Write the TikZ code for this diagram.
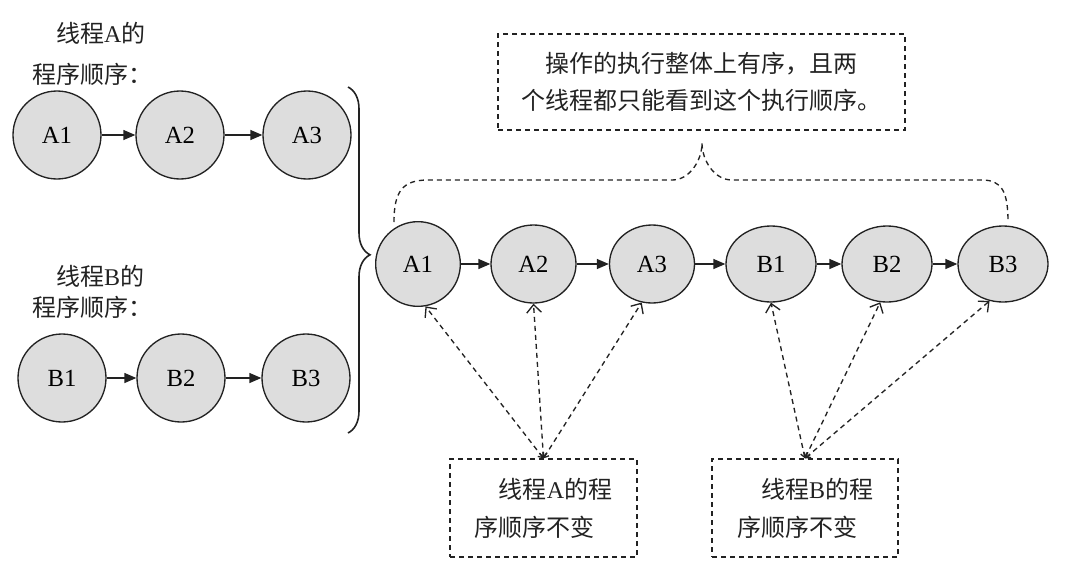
\documentclass[tikz,border=0pt]{standalone}
\usepackage{fontspec}
\setmainfont{Noto Sans CJK SC}
\newfontfamily\latin{Liberation Serif}
\usetikzlibrary{arrows.meta,shapes.geometric,decorations.pathreplacing}
\definecolor{opfill}{RGB}{221,221,221}
\definecolor{ink}{RGB}{34,34,34}

\begin{document}
\begin{tikzpicture}[x=0.75pt,y=-0.75pt]
        \tikzset{op/.style={draw=ink,fill=opfill,line width=1pt,inner sep=0pt,
                font=\latin\fontsize{18.5}{20}\selectfont},
            lop/.style={op,circle,minimum size=66pt},
            rfirst/.style={op,circle,minimum size=63.5pt},
            rop/.style={op,ellipse,minimum width=63.75pt,minimum height=58.5pt},
            rbop/.style={op,ellipse,minimum width=67.5pt,minimum height=57pt},
            flow/.style={draw=ink,line width=1pt,-{Triangle[length=9pt,width=7.5pt]}},
            note/.style={align=left,inner sep=0pt,text=ink},
            notebox/.style={note,draw=ink,line width=1pt,dash pattern=on 3.75pt off 3pt},
            link/.style={draw=ink,line width=1pt,dash pattern=on 3.75pt off 3pt,
                {Straight Barb[length=3pt,width=5pt]}-{Straight Barb[length=6pt,width=11pt]}}}
        \useasboundingbox (0,0) rectangle (1075,568);
        \node[note,font=\fontsize{18}{30.75}\selectfont] (ta) at (92,53.5)
            {\hspace{1em}线程{\latin A}的\\程序顺序：};
        \node[lop] (la1) at (57,135) {A1};
        \node[lop] (la2) at (180,135) {A2};
        \node[lop] (la3) at (307,135) {A3};
        \draw[flow] (la1) -- (la2);
        \draw[flow] (la2) -- (la3);
        \node[note,font=\fontsize{18}{23.25}\selectfont] (tb) at (92,291.75)
            {\hspace{1em}线程{\latin B}的\\程序顺序：};
        \node[lop] (lb1) at (62,378) {B1};
        \node[lop] (lb2) at (181,378) {B2};
        \node[lop] (lb3) at (306,378) {B3};
        \draw[flow] (lb1) -- (lb2);
        \draw[flow] (lb2) -- (lb3);
        \draw[ink,line width=1.2pt,decorate,decoration={brace,amplitude=16.5pt,aspect=0.485}]
            (348,87) -- (348,433);
        \node[rfirst] (ra1) at (418,264) {A1};
        \node[rop] (ra2) at (533.5,264) {A2};
        \node[rop] (ra3) at (652,264) {A3};
        \node[rbop] (rb1) at (771,264) {B1};
        \node[rbop] (rb2) at (887,264) {B2};
        \node[rbop] (rb3) at (1003,264) {B3};
        \draw[flow] (ra1) -- (ra2);
        \draw[flow] (ra2) -- (ra3);
        \draw[flow] (ra3) -- (rb1);
        \draw[flow] (rb1) -- (rb2);
        \draw[flow] (rb2) -- (rb3);
        \node[notebox,minimum width=305.25pt,minimum height=72pt,
            font=\fontsize{18}{27.75}\selectfont] (whole) at (701.5,82)
            {\hspace{1em}操作的执行整体上有序，且两\\个线程都只能看到这个执行顺序。};
        \coordinate (bl) at (394,222);
        \coordinate (br) at (1008,222);
        \coordinate (tip) at (702,143);
        \draw[ink,line width=1pt,dash pattern=on 3.75pt off 3pt]
            (bl) .. controls (394,192) and (402,180) .. (428,180) -- (672,180)
            .. controls (690,180) and (702,160) .. (tip)
            .. controls (702,160) and (714,180) .. (732,180) -- (982,180)
            .. controls (1002,180) and (1008,192) .. (br);
        \node[notebox,minimum width=140.25pt,minimum height=73.5pt,
            font=\fontsize{18}{28.5}\selectfont] (ka) at (543.5,508)
            {\hspace{1em}线程{\latin A}的程\\序顺序不变};
        \node[notebox,minimum width=139.5pt,minimum height=73.5pt,
            font=\fontsize{18}{28.5}\selectfont] (kb) at (805,508)
            {\hspace{1em}线程{\latin B}的程\\序顺序不变};
        \draw[link] (ka.north) -- (ra1.-80);
        \draw[link] (ka.north) -- (ra2.south);
        \draw[link] (ka.north) -- (ra3.-105);
        \draw[link] (kb.north) -- (rb1.south);
        \draw[link] (kb.north) -- (rb2.-100);
        \draw[link] (kb.north) -- (rb3.-110);
    \end{tikzpicture}
\end{document}
